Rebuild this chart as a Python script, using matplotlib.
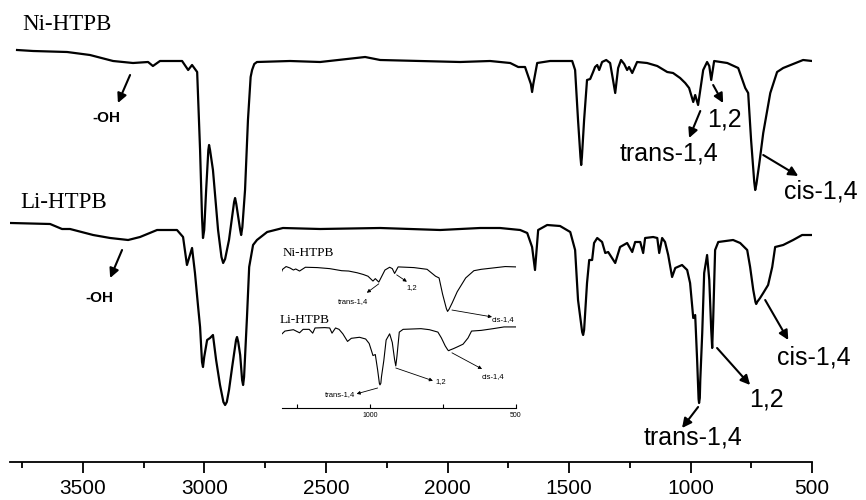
import numpy as np
import matplotlib
matplotlib.use("Agg")
import matplotlib.pyplot as plt

plt.rcParams['font.family'] = ['Liberation Sans', 'DejaVu Sans']

# FTIR spectra: wavenumber (cm-1) and transmittance (a.u., offset)
ni_wn = [3771, 3705, 3565, 3471, 3376, 3294, 3232, 3212, 3183, 3092, 3067, 3051, 3030,
         3018, 3010, 3006, 3001, 2993, 2984, 2981, 2977, 2965, 2944, 2930, 2923, 2915,
         2899, 2878, 2874, 2869, 2853, 2849, 2844, 2833, 2821, 2810, 2804, 2795,
         2784, 2648, 2524, 2339, 2277, 2113, 1948, 1825, 1742, 1709, 1681, 1657, 1652,
         1647, 1631, 1578, 1487, 1475, 1463, 1453, 1450, 1447, 1438, 1426, 1413, 1401,
         1393, 1384, 1376, 1364, 1347, 1331, 1319, 1310, 1298, 1286, 1273, 1261, 1253,
         1240, 1220, 1179, 1137, 1096, 1072, 1043, 1022, 1006, 989, 981, 969, 960, 948,
         932, 923, 915, 903, 849, 804, 775, 763, 751, 738, 734, 729, 718, 701, 672, 644,
         619, 578, 537, 500]
ni_t = [412, 411, 410, 407, 401, 399, 400, 396, 401, 401, 392, 397, 390,
        312, 245, 224, 232, 272, 312, 317, 312, 292, 232, 205, 199, 203,
        222, 260, 264, 258, 232, 227, 235, 272, 342, 385, 392, 398,
        400, 401, 400, 405, 402, 401, 400, 401, 399, 395, 395, 378, 370,
        378, 399, 401, 401, 392, 342, 305, 297, 305, 342, 382, 383, 390,
        395, 397, 392, 400, 402, 399, 382, 369, 394, 402, 398, 392, 395,
        389, 400, 399, 396, 390, 389, 384, 379, 374, 360, 367, 357, 372, 392,
        400, 396, 382, 401, 399, 394, 374, 369, 322, 280, 272, 278, 297, 329, 369, 390,
        394, 398, 402, 401]

li_wn = [3796, 3635, 3586, 3553, 3458, 3388, 3314, 3265, 3195, 3113, 3088, 3072, 3051,
         3039, 3026, 3018, 3010, 3006, 3001, 2989, 2977, 2965, 2952, 2936, 2922, 2915,
         2908, 2899, 2886, 2870, 2866, 2861, 2853, 2845, 2841, 2837, 2825, 2816, 2800,
         2784, 2742, 2677, 2524, 2277, 2030, 1866, 1784, 1701, 1672, 1652, 1640, 1627,
         1590, 1537, 1495, 1475, 1463, 1446, 1442, 1438, 1426, 1417, 1405, 1397, 1384,
         1364, 1351, 1339, 1310, 1290, 1261, 1240, 1228, 1207, 1195, 1187, 1154, 1137,
         1129, 1117, 1105, 1092, 1076, 1063, 1035, 1014, 1002, 993, 989, 981, 973, 967,
         965, 962, 960, 952, 944, 932, 923, 915, 911, 907, 899, 886, 825, 796, 767, 755,
         742, 733, 730, 726, 714, 701, 681, 664, 652, 619, 578, 541, 500]
li_t = [239, 238, 233, 233, 227, 224, 222, 225, 232, 232, 225, 197, 214,
        189, 155, 135, 100, 95, 105, 122, 124, 127, 102, 77, 60, 57,
        60, 72, 95, 122, 125, 120, 107, 82, 77, 85, 145, 195, 217,
        222, 230, 234, 233, 234, 232, 234, 234, 232, 229, 215, 192, 232,
        237, 236, 230, 212, 162, 130, 127, 132, 179, 202, 202, 219, 224,
        220, 209, 210, 199, 215, 219, 210, 220, 220, 209, 224, 225, 224,
        209, 224, 220, 207, 185, 194, 197, 192, 179, 155, 144, 147, 102, 63,
        59, 64, 82, 129, 189, 207, 182, 132, 114, 142, 212, 220, 222, 219, 212, 195,
        172, 160, 158, 160, 164, 169, 177, 195, 215, 217, 222, 227, 227]

main_ticks = [3500, 3000, 2500, 2000, 1500, 1000, 500]
main_minor = [3750, 3250, 2750, 2250, 1750, 1250, 750]
inset_ticks = [1000, 500]
inset_minor = [1250, 750]

fig = plt.figure(figsize=(8.66, 5.0), dpi=100)
ax = fig.add_axes([0.01155, 0.076, 0.9262, 0.924])
ax.plot(ni_wn, ni_t, color='k', lw=1.6, solid_joinstyle='round')
ax.plot(li_wn, li_t, color='k', lw=1.6, solid_joinstyle='round')
ax.set_xlim(3800, 500)
ax.set_ylim(0, 462)
for s in ['top', 'left', 'right']:
    ax.spines[s].set_visible(False)
ax.spines['bottom'].set_linewidth(1.3)
ax.set_yticks([])
ax.set_xticks(main_ticks)
ax.set_xticks(main_minor, minor=True)
ax.tick_params(axis='x', which='major', direction='out', length=8, width=1.3,
               labelsize=15, pad=4)
ax.tick_params(axis='x', which='minor', direction='out', length=4.5, width=1.3)
ax.patch.set_alpha(0)

ser = 'Liberation Serif'
ax.text(3751, 437, 'Ni-HTPB', family=ser, fontsize=16.5, ha='left', va='center')
ax.text(3759, 259, 'Li-HTPB', family=ser, fontsize=16.5, ha='left', va='center')

arr = dict(arrowstyle='-|>', color='k', lw=1.5, mutation_scale=14, shrinkA=0, shrinkB=0)


def mark(a, tail, tip, txt, pos, size=18, weight='normal', props=arr):
    a.annotate('', xy=tip, xytext=tail, arrowprops=props, annotation_clip=False)
    a.text(pos[0], pos[1], txt, fontsize=size, fontweight=weight,
           ha='center', va='center', clip_on=False)


# top spectrum labels
mark(ax, (3306, 387), (3356, 359), '-OH', (3405, 344), size=11, weight='bold')
mark(ax, (907, 377), (866, 359), '1,2', (862, 342))
mark(ax, (960, 351), (1006, 324), 'trans-1,4', (1088, 308))
mark(ax, (701, 307), (557, 286), 'cis-1,4', (463, 270))
# bottom spectrum labels
mark(ax, (3339, 212), (3388, 184), '-OH', (3434, 164), size=11, weight='bold')
mark(ax, (693, 162), (598, 122), 'cis-1,4', (491, 105))
mark(ax, (891, 114), (755, 77), '1,2', (689, 63))
mark(ax, (969, 55), (1035, 34), 'trans-1,4', (989, 25))

# inset: fingerprint region enlarged
ins = fig.add_axes([282 / 866, (500 - 408) / 500, 234 / 866, 158 / 500])
ins.plot(ni_wn, ni_t, color='k', lw=0.8)
ins.plot(li_wn, li_t, color='k', lw=0.8)
ins.set_xlim(1300, 500)
ins.set_ylim(-8, 450)
for s in ['top', 'left', 'right']:
    ins.spines[s].set_visible(False)
ins.spines['bottom'].set_linewidth(0.8)
ins.set_yticks([])
ins.set_xticks(inset_ticks)
ins.set_xticks(inset_minor, minor=True)
ins.tick_params(axis='x', which='both', direction='in', length=3, width=0.8,
                labelsize=5, pad=3)
ins.patch.set_alpha(0)

ins.text(1298, 442, 'Ni-HTPB', family=ser, fontsize=9.5, ha='left', va='center')
ins.text(1308, 247, 'Li-HTPB', family=ser, fontsize=9.5, ha='left', va='center')

arr_s = dict(arrowstyle='-|>', color='k', lw=0.6, mutation_scale=5, shrinkA=0, shrinkB=0)
mark(ins, (969, 352), (1010, 326), 'trans-1,4', (1058, 300), size=5.5, props=arr_s)
mark(ins, (908, 378), (873, 358), '1,2', (856, 340), size=5.5, props=arr_s)
mark(ins, (719, 276), (582, 256), 'cis-1,4', (544, 247), size=5.5, props=arr_s)
mark(ins, (973, 50), (1045, 33), 'trans-1,4', (1103, 30), size=5.5, props=arr_s)
mark(ins, (911, 108), (784, 71), '1,2', (757, 68), size=5.5, props=arr_s)
mark(ins, (719, 152), (616, 105), 'cis-1,4', (579, 82), size=5.5, props=arr_s)

fig.savefig('out.png', dpi=100)
